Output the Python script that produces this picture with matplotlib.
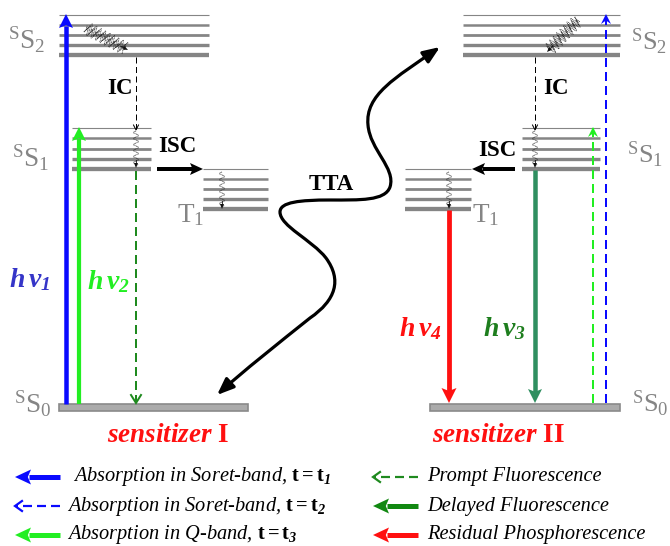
import numpy as np
import matplotlib
matplotlib.use("Agg")
import matplotlib.pyplot as plt
from matplotlib.patches import FancyArrowPatch, Rectangle, Polygon
from matplotlib.path import Path

plt.rcParams['mathtext.fontset'] = 'custom'
plt.rcParams['mathtext.rm'] = 'Liberation Serif'
plt.rcParams['mathtext.it'] = 'Liberation Serif:italic:bold'
plt.rcParams['mathtext.bf'] = 'Liberation Serif:bold'
plt.rcParams['mathtext.sf'] = 'Liberation Serif:italic:bold'
SERIF = 'Liberation Serif'

# ---- diagram content ----
level_names = [r'${}^{\mathrm{S}}\mathrm{S}_{2}$', r'${}^{\mathrm{S}}\mathrm{S}_{1}$', r'${}^{\mathrm{S}}\mathrm{S}_{0}$']
triplet_label = r'$\mathrm{T}_{1}$'
sensitizer_names = ['sensitizer $\\mathbf{I}$', 'sensitizer $\\mathbf{II}$']
photon_labels = [r'$h\,\nu_{\mathsf{1}}$', r'$h\,\nu_{\mathsf{2}}$', r'$h\,\nu_{\mathsf{3}}$', r'$h\,\nu_{\mathsf{4}}$']
process_labels = ['IC', 'ISC', 'TTA']
legend_texts = ['Absorption in Soret-band, $\\mathbf{t = t}_{\\mathsf{1}}$',
                'Absorption in Soret-band, $\\mathbf{t = t}_{\\mathsf{2}}$',
                'Absorption in Q-band, $\\mathbf{t = t}_{\\mathsf{3}}$',
                'Prompt Fluorescence', 'Delayed Fluorescence', 'Residual Phosphorescence']
legend_colors = ['#0a0aff', '#0a0aff', '#22ee22', '#1f8a1f', '#118811', '#ff1010']
legend_dashed = [False, True, False, True, False, False]

# vibrational sub-level energies (pixel rows) of each manifold
S2_rows = [15, 25, 35, 45, 55]
S1_rows = [128, 138, 149, 159, 169]
T1_rows = [169, 179, 189, 199, 209]
S0_row = 407
sublevel_lw = [0.8, 1.8, 2.0, 2.4, 3.1]

GRAY = '#858585'
BLUE = '#0a0aff'
GREEN = '#22ee22'
DKGREEN = '#1f8a1f'
SEAGREEN = '#2f8f60'
RED = '#ff1010'
PX = 0.72  # points per pixel

fig = plt.figure(figsize=(6.70, 5.46), dpi=100)
ax = fig.add_axes([0, 0, 1, 1])
ax.set_xlim(0, 670)
ax.set_ylim(546, 0)
ax.axis('off')


def manifold(x0, x1, rows):
    for y, lw in zip(rows, sublevel_lw):
        ax.plot([x0, x1], [y, y], color=GRAY, lw=lw, solid_capstyle='butt', zorder=2)


def ground(x0, x1):
    ax.add_patch(Rectangle((x0, S0_row - 3.5), x1 - x0, 7, facecolor='#ababab',
                           edgecolor='#8a8a8a', lw=1.2, zorder=2))


def _unit(x0, y0, x1, y1):
    d = np.hypot(x1 - x0, y1 - y0)
    return (x1 - x0) / d, (y1 - y0) / d


def arrow(x0, y0, x1, y1, color, w, hl=12, hw=12, z=4):
    ux, uy = _unit(x0, y0, x1, y1)
    nx, ny = -uy, ux
    bx, by = x1 - ux * hl, y1 - uy * hl
    ax.plot([x0, bx + ux * 2.5], [y0, by + uy * 2.5], color=color, lw=w * PX,
            solid_capstyle='butt', zorder=z)
    ax.add_patch(Polygon([(x1, y1), (bx + nx * hw / 2, by + ny * hw / 2),
                          (bx + ux * hl * 0.2, by + uy * hl * 0.2),
                          (bx - nx * hw / 2, by - ny * hw / 2)],
                         closed=True, facecolor=color, edgecolor='none', zorder=z))


def dashed_arrow(x0, y0, x1, y1, color, w, dash=(10, 5), head='open', hl=7, hw=7, z=4):
    ux, uy = _unit(x0, y0, x1, y1)
    nx, ny = -uy, ux
    lwpt = w * PX
    ax.plot([x0, x1 - ux * 1.0], [y0, y1 - uy * 1.0], color=color, lw=lwpt,
            dashes=(dash[0] / w, dash[1] / w), zorder=z)
    bx, by = x1 - ux * hl, y1 - uy * hl
    if head == 'open':
        ax.plot([bx + nx * hw / 2, x1, bx - nx * hw / 2], [by + ny * hw / 2, y1, by - ny * hw / 2],
                color=color, lw=lwpt, solid_joinstyle='miter', zorder=z)
    else:
        ax.add_patch(Polygon([(x1, y1), (bx + nx * hw / 2, by + ny * hw / 2),
                              (bx + ux * hl * 0.35, by + uy * hl * 0.35),
                              (bx - nx * hw / 2, by - ny * hw / 2)],
                             closed=True, facecolor=color, edgecolor='none', zorder=z))


def wiggle(x0, y0, x1, y1, amp=2.5, period=5.0, strands=1, spread=0.0):
    d = np.hypot(x1 - x0, y1 - y0)
    ux, uy = (x1 - x0) / d, (y1 - y0) / d
    nx, ny = -uy, ux
    t = np.linspace(0, d - 3, 200)
    for k in range(strands):
        off = (k - (strands - 1) / 2) * spread
        w = amp * np.sin(2 * np.pi * t / period + k * 1.3) + off
        ax.plot(x0 + ux * t + nx * w, y0 + uy * t + ny * w, color='#222222', lw=0.6,
                linestyle=(0, (1, 0.8)), zorder=3)
    bx, by = x1 - ux * 5, y1 - uy * 5
    ax.add_patch(Polygon([(x1, y1), (bx + nx * 2, by + ny * 2), (bx - nx * 2, by - ny * 2)],
                         closed=True, facecolor='#111111', edgecolor='none', zorder=3))
    ax.plot([x1 - ux * 8, bx], [y1 - uy * 8, by], color='#111111', lw=0.6, zorder=3)


def label(x, y, s, size, color='black', **kw):
    ax.text(x, y, s, color=color, fontsize=size, ha=kw.pop('ha', 'center'), va='center', **kw)


# ---------------- sensitizer I ----------------
manifold(59, 209, S2_rows)
manifold(72, 151, S1_rows)
manifold(203, 268, T1_rows)
ground(59, 248)

arrow(66, S0_row - 3, 66, S2_rows[0] - 1, BLUE, 4.5, hl=14, hw=14)
arrow(79, S0_row - 3, 79, S1_rows[0] - 1, GREEN, 4.2, hl=14, hw=14)
dashed_arrow(136, S1_rows[-1] + 2, 136, S0_row - 4, DKGREEN, 2.0, dash=(9, 5), head='open', hl=8, hw=10)
dashed_arrow(136, S2_rows[-1] + 2, 136, S1_rows[0] + 2, 'black', 1.0, dash=(6, 3.5), head='open', hl=5, hw=5)
arrow(157, 169, 203, 169, 'black', 4.0, hl=13, hw=12)

wiggle(86, 28, 128, 50, amp=4, period=5, strands=3, spread=2.5)
wiggle(136, 131, 136, 168, amp=2.5, period=6)
wiggle(222, 172, 222, 209, amp=2.5, period=6)

label(27, 40, level_names[0], 19.5, GRAY)
label(31, 158, level_names[1], 19.5, GRAY)
label(33, 404, level_names[2], 19.5, GRAY)
label(177, 215, triplet_label, 19.5, GRAY, ha='left')
label(120, 88, process_labels[0], 16.5, fontweight='bold', family=SERIF)
label(177, 147, process_labels[1], 16.5, fontweight='bold', family=SERIF)
label(30, 279, photon_labels[0], 20, '#3535c8')
label(108, 281, photon_labels[1], 20, GREEN)
label(168, 436, sensitizer_names[0], 19.5, RED, fontstyle='italic', fontweight='bold', family=SERIF)

# ---------------- sensitizer II ----------------
manifold(463, 620, S2_rows)
manifold(522, 600, S1_rows)
manifold(405, 471, T1_rows)
ground(430, 620)

dashed_arrow(606, S0_row - 4, 606, S2_rows[0] - 1, BLUE, 2.0, dash=(9, 5), head='filled', hl=10, hw=10)
dashed_arrow(593, S0_row - 4, 593, S1_rows[0] - 1, GREEN, 2.0, dash=(9, 5), head='filled', hl=10, hw=10)
arrow(535, S1_rows[-1] + 1, 535, S0_row - 4, SEAGREEN, 4.5, hl=14, hw=14)
arrow(449, T1_rows[-1] + 1, 449, S0_row - 4, RED, 4.8, hl=15, hw=15)
dashed_arrow(535, S2_rows[-1] + 2, 535, S1_rows[0] + 2, 'black', 1.0, dash=(6, 3.5), head='open', hl=5, hw=5)
arrow(515, 169, 472, 169, 'black', 4.0, hl=13, hw=12)

wiggle(578, 20, 547, 52, amp=4, period=5, strands=3, spread=2.5)
wiggle(535, 131, 535, 168, amp=2.5, period=6)
wiggle(449, 172, 449, 209, amp=2.5, period=6)

label(649, 42, level_names[0], 19, GRAY)
label(645, 155, level_names[1], 19, GRAY)
label(650, 404, level_names[2], 19, GRAY)
label(472, 215, triplet_label, 19.5, GRAY, ha='left')
label(556, 89, process_labels[0], 16.5, fontweight='bold', family=SERIF)
label(497, 150, process_labels[1], 16.5, fontweight='bold', family=SERIF)
label(420, 328, photon_labels[3], 20, RED)
label(504, 328, photon_labels[2], 20, '#1e7e1e')
label(499, 436, sensitizer_names[1], 19.5, RED, fontstyle='italic', fontweight='bold', family=SERIF)

# ---------------- TTA curve ----------------
verts = [(440, 47),
         (395, 78), (365, 95), (368, 125),
         (370, 150), (396, 168), (390, 187),
         (385, 201), (360, 200), (330, 200),
         (300, 200), (280, 202), (280, 212),
         (280, 226), (312, 240), (326, 258),
         (342, 280), (336, 300), (310, 318),
         (280, 342), (242, 372), (217, 395)]
codes = [Path.MOVETO] + [Path.CURVE4] * (len(verts) - 1)
tta = FancyArrowPatch(path=Path(verts, codes), arrowstyle='<|-|>,head_length=1.0,head_width=0.4',
                      mutation_scale=10, color='black', lw=2.3, zorder=3)
ax.add_patch(tta)
label(331, 185, process_labels[2], 16.5, fontweight='bold', family=SERIF)

# ---------------- legend ----------------
rows = [477, 506, 535]
for i, (txt, col, dsh) in enumerate(zip(legend_texts, legend_colors, legend_dashed)):
    y = rows[i % 3]
    if i < 3:
        xa0, xa1, xt = 60, 15, (73 if i == 0 else 67)
    else:
        xa0, xa1, xt = 418, 373, 427
    if dsh:
        dashed_arrow(xa0, y, xa1, y, col, 2.2, dash=(9, 5), head='open', hl=7, hw=10)
    else:
        arrow(xa0, y, xa1, y, col, 5.0, hl=16, hw=15)
    ax.text(xt, y, txt, fontsize=14.7, fontstyle='italic', family=SERIF, ha='left', va='center')

fig.savefig('out.png', dpi=100)
